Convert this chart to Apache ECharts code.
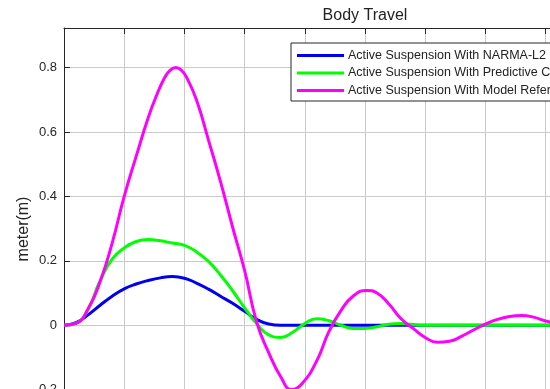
<!DOCTYPE html>
<html>
<head>
<meta charset="utf-8">
<script src="https://cdn.jsdelivr.net/npm/echarts@6/dist/echarts.min.js"></script>
<style>html,body{margin:0;padding:0;background:#fff;}#c{width:550px;height:389px;}</style>
</head>
<body>
<div id="c"></div>
<script>
var timeValues = [0,0.2,0.4,0.6,0.8,1.0,1.2,1.4,1.6,1.8,2.0,2.2,2.4,2.6,2.8,3.0,3.2,3.4,3.6,3.8,4.0,4.2,4.4,4.6,4.8,5.0,5.2,5.4,5.6,5.8,6.0,6.2,6.4,6.6,6.8,7.0,7.2,7.4,7.6,7.8,8.0,8.2];
var narmaValues = [0,0.008,0.032,0.062,0.09,0.113,0.128,0.139,0.147,0.151,0.146,0.131,0.112,0.09,0.068,0.043,0.018,0.004,0,0,0,0,0,0,0,0,0,0,0,0,0,0,0,0,0,0,0,0,0,0,0,0];
var predictiveValues = [0,0.006,0.05,0.138,0.205,0.24,0.26,0.266,0.262,0.255,0.248,0.228,0.198,0.156,0.107,0.054,0.005,-0.03,-0.038,-0.022,0.005,0.02,0.014,0,-0.01,-0.01,-0.005,0.003,0.005,0.002,0,0,0,0,0,0,0,0,0,0,0,0];
var modelRefTimes = [0,0.2,0.4,0.6,0.8,1.0,1.2,1.4,1.53,1.675,1.766,1.857,1.948,2.035,2.2,2.4,2.6,2.8,3.0,3.2,3.4,3.6,3.78,3.96,4.2,4.4,4.6,4.8,5.03,5.2,5.4,5.6,5.8,6.0,6.2,6.4,6.6,6.8,7.0,7.2,7.4,7.6,7.8,8.0,8.2];
var modelRefValues = [0,0.006,0.05,0.135,0.255,0.4,0.525,0.645,0.71,0.77,0.792,0.8,0.792,0.77,0.7,0.575,0.446,0.305,0.17,0.01,-0.085,-0.16,-0.2,-0.18,-0.11,-0.02,0.045,0.09,0.108,0.1,0.065,0.02,-0.01,-0.038,-0.053,-0.05,-0.035,-0.015,0.003,0.018,0.027,0.03,0.025,0.013,0.005];
var yTicks = [-0.4,-0.2,0,0.2,0.4,0.6,0.8];
var seriesNames = ['Active Suspension With NARMA-L2 Controller','Active Suspension With Predictive Controller','Active Suspension With Model Reference Controller'];
var titleText = 'Body Travel';
var yLabel = 'meter(m)';

function pairs(ts, v){ return ts.map(function(t,i){ return [t, v[i]]; }); }
var FONT = '"Liberation Sans", Arial, sans-serif';
var chart = echarts.init(document.getElementById('c'), null, {renderer:'canvas'});
var colors = ['#0000f0','#00ff00','#ff00ff'];
chart.setOption({
  animation:false,
  backgroundColor:'#ffffff',
  title:{text:titleText,left:365,top:8,textAlign:'center',padding:0,
    textStyle:{fontFamily:FONT,fontSize:16,fontWeight:'normal',color:'#222'}},
  legend:{orient:'vertical',left:291,top:43,padding:[5,8,3,6],itemGap:2.5,
    itemWidth:47,itemHeight:3,icon:'rect',
    backgroundColor:'#ffffff',borderColor:'#262626',borderWidth:1,borderRadius:0,
    textStyle:{fontFamily:FONT,fontSize:12.5,color:'#222',lineHeight:15,padding:[0,0,0,-1]},
    data:seriesNames},
  grid:{left:64,top:28,right:-116,bottom:-65,show:false,outerBoundsMode:'none',containLabel:false},
  xAxis:[{type:'value',min:0,max:10,interval:1,position:'bottom',
    axisLine:{show:true,onZero:false,lineStyle:{color:'#262626'}},
    axisTick:{show:true,inside:true,length:6,lineStyle:{color:'#262626'}},
    axisLabel:{show:false},
    splitLine:{show:true,lineStyle:{color:'#cacaca',width:1}}},
   {type:'value',min:0,max:10,interval:1,position:'top',
    axisLine:{show:true,onZero:false,lineStyle:{color:'#262626'}},
    axisTick:{show:true,inside:true,length:6,lineStyle:{color:'#262626'}},
    axisLabel:{show:false},splitLine:{show:false}}],
  yAxis:[{type:'value',min:yTicks[0],max:0.923,interval:0.2,
    axisLine:{show:true,onZero:false,lineStyle:{color:'#262626'}},
    axisTick:{show:true,inside:true,length:6,lineStyle:{color:'#262626'}},
    axisLabel:{fontFamily:FONT,fontSize:13,color:'#262626',margin:7,
      formatter:function(v){ var r=Math.round(v*10)/10; if(Math.abs(v-r)>1e-6) return ''; return String(r);} },
    splitLine:{show:true,lineStyle:{color:'#cacaca',width:1}},
    name:yLabel,nameLocation:'middle',nameGap:32,nameMoveOverlap:false,
    nameTextStyle:{fontFamily:FONT,fontSize:16,color:'#222',padding:[0,0,0,24]}}],
  series:[
    {name:seriesNames[0],type:'line',data:pairs(timeValues,narmaValues),smooth:0.5,showSymbol:false,
      lineStyle:{color:colors[0],width:3},itemStyle:{color:colors[0]},z:2},
    {name:seriesNames[1],type:'line',data:pairs(timeValues,predictiveValues),smooth:0.5,showSymbol:false,
      lineStyle:{color:colors[1],width:3},itemStyle:{color:colors[1]},z:3},
    {name:seriesNames[2],type:'line',data:pairs(modelRefTimes,modelRefValues),smooth:0.5,showSymbol:false,
      lineStyle:{color:colors[2],width:3},itemStyle:{color:colors[2]},z:4}
  ]
});
</script>
</body>
</html>
